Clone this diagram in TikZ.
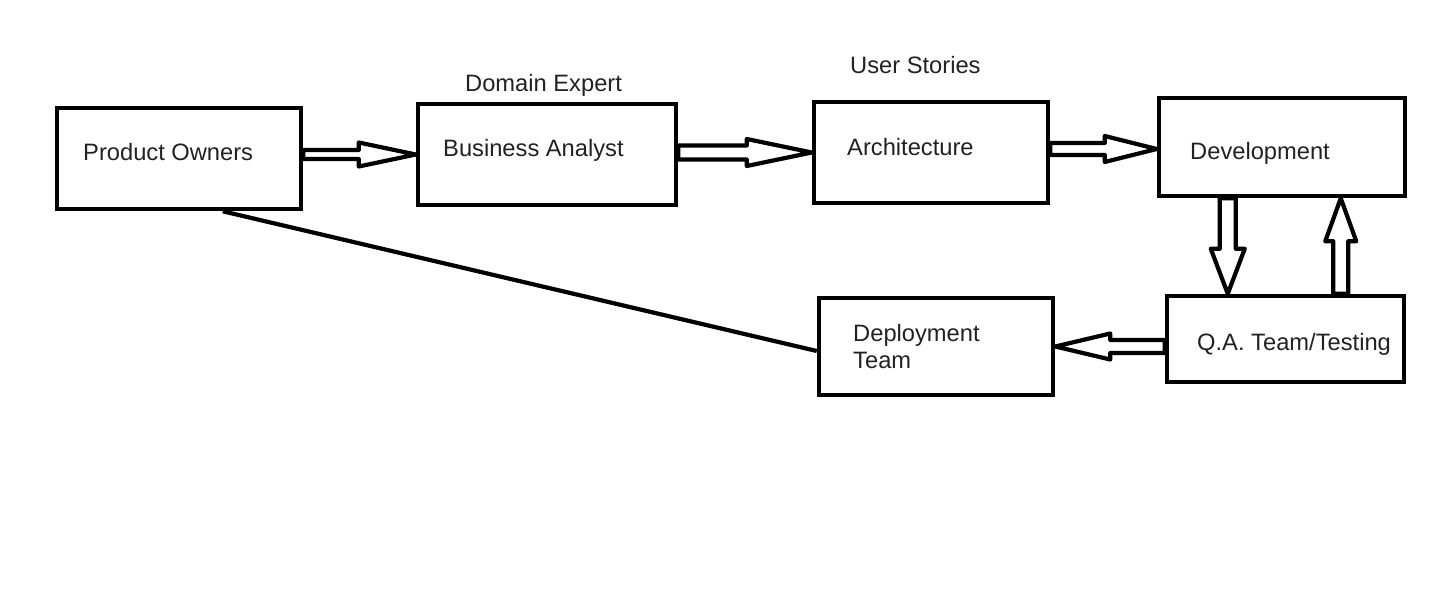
\documentclass[tikz,border=0pt]{standalone}
\usepackage{fontspec}
\setmainfont{Liberation Sans}
\usetikzlibrary{calc}
\definecolor{txt}{HTML}{222222}
\newcommand\blockarrow[5]{%
  \coordinate (bhead) at ($(#2)!#5!(#1)$);
  \draw[barrow] ($(#1)!#3!90:(#2)$) -- ($(bhead)!#3!-90:(#1)$) -- ($(bhead)!#4!-90:(#1)$) -- (#2)
    -- ($(bhead)!#4!90:(#1)$) -- ($(bhead)!#3!90:(#1)$) -- ($(#1)!#3!-90:(#2)$) -- cycle;}
\begin{document}
\begin{tikzpicture}[x=1pt,y=-1pt,
  box/.style={draw=black,line width=4.5pt,rectangle,inner sep=0pt,fill=white},
  lbl/.style={anchor=base west,inner sep=0pt,text=txt,font=\fontsize{23.7}{28}\selectfont},
  barrow/.style={draw=black,line width=4.2pt,fill=white,line join=round},
  link/.style={draw=black,line width=4.2pt}]
\useasboundingbox[fill=white] (0,0) rectangle (1455,589);
% boxes
\node[box,minimum width=244pt,minimum height=101pt] (po)  at (179,158.5) {};
\node[box,minimum width=258pt,minimum height=101pt] (ba)  at (547,154.5) {};
\node[box,minimum width=234pt,minimum height=101pt] (ar)  at (931,152.5) {};
\node[box,minimum width=246pt,minimum height=98pt]  (dev) at (1282,147) {};
\node[box,minimum width=237pt,minimum height=86pt]  (qa)  at (1285.5,339) {};
\node[box,minimum width=234pt,minimum height=97pt]  (dep) at (936,346.5) {};
% texts
\node[lbl] (tpo)  at (83,160)  {Product Owners};
\node[lbl] (tba)  at (443,156) {Business Analyst};
\node[lbl] (tar)  at (847,155) {Architecture};
\node[lbl] (tdev) at (1190,159) {Development};
\node[lbl] (tqa)  at (1197,350) {Q.A. Team/Testing};
\node[lbl] (tdep1) at (853,341) {Deployment};
\node[lbl] (tdep2) at (853,368) {Team};
\node[lbl] (tde)  at (465,91)  {Domain Expert};
\node[lbl] (tus)  at (850,73)  {User Stories};
% connector line
\coordinate (ls) at ($(po.south west)!0.676!(po.south east)$);
\coordinate (le) at (dep.west |- 0,351);
\draw[link] (ls) -- (le);
% block arrows
\coordinate (a1s) at (po.east |- ba.west);
\blockarrow{a1s}{ba.west}{4.5pt}{12pt}{57pt}
\coordinate (a2s) at (ba.east |- ar.west);
\blockarrow{a2s}{ar.west}{7pt}{13.5pt}{65pt}
\coordinate (a3e) at ($(dev.west)+(0,2)$);
\coordinate (a3s) at (ar.east |- a3e);
\blockarrow{a3s}{a3e}{6pt}{13pt}{52pt}
\coordinate (a4s) at ($(dev.south west)+(71,0)$);
\coordinate (a4e) at (a4s |- qa.north);
\blockarrow{a4s}{a4e}{8pt}{17pt}{45pt}
\coordinate (a5s) at ($(qa.north west)+(176,0)$);
\coordinate (a5e) at (a5s |- dev.south);
\blockarrow{a5s}{a5e}{7.5pt}{15.5pt}{43pt}
\coordinate (a6s) at (qa.west |- dep.east);
\blockarrow{a6s}{dep.east}{6.5pt}{13pt}{55pt}
\end{tikzpicture}
\end{document}
